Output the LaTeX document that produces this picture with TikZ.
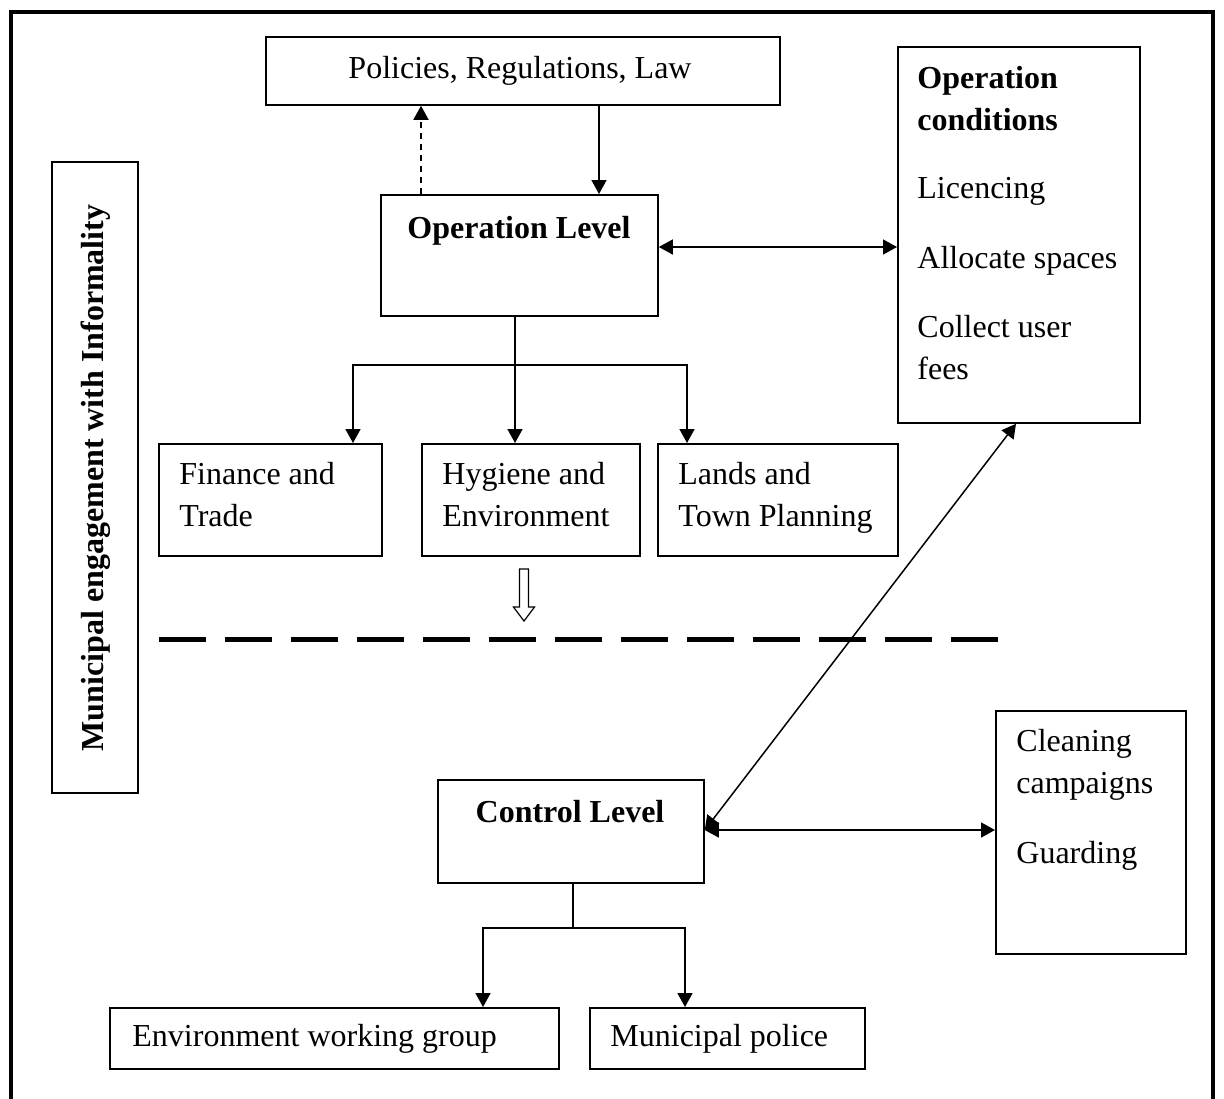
\documentclass[tikz,border=0pt]{standalone}
\usepackage{fontspec}
\setmainfont{Liberation Serif}
\usetikzlibrary{arrows.meta}
\newcommand{\fs}{\fontsize{16}{21}\selectfont}
\begin{document}
\begin{tikzpicture}[x=0.5pt,y=-0.5pt,
  box/.style={draw, line width=0.9pt, inner sep=0pt, anchor=north west},
  txt/.style={inner sep=0pt, anchor=base west, align=left, font=\fs},
  ctxt/.style={inner sep=0pt, anchor=base, align=center, font=\fs\bfseries},
  conn/.style={line width=0.75pt},
  arr/.style={conn, -{Triangle[length=7pt,width=7.5pt]}},
  darr/.style={conn, {Triangle[length=7pt,width=7.5pt]}-{Triangle[length=7pt,width=7.5pt]}},
  dasharr/.style={arr, line width=0.9pt, dash pattern=on 3pt off 2.5pt}]
\useasboundingbox (0,0) rectangle (1224,1098);
% outer frame (open at the bottom)
\draw[line width=2pt] (11,1100) -- (11,12) -- (1213,12) -- (1213,1100);
% boxes
\node[box, minimum width=257pt, minimum height=34pt] (pol) at (265,36) {};
\node[box, minimum width=121pt, minimum height=188pt] (opc) at (897,46) {};
\node[box, minimum width=43pt, minimum height=315.5pt] (mun) at (51,161) {};
\node[box, minimum width=138.5pt, minimum height=60.5pt] (opl) at (380,194) {};
\node[box, minimum width=111.5pt, minimum height=56pt] (fin) at (158,443) {};
\node[box, minimum width=109pt, minimum height=56pt] (hyg) at (421,443) {};
\node[box, minimum width=120pt, minimum height=56pt] (lan) at (657,443) {};
\node[box, minimum width=133pt, minimum height=51.5pt] (ctl) at (437,779) {};
\node[box, minimum width=95pt, minimum height=121.5pt] (cln) at (995,710) {};
\node[box, minimum width=224.5pt, minimum height=30.5pt] (env) at (109,1007) {};
\node[box, minimum width=137.5pt, minimum height=30.5pt] (mpl) at (589,1007) {};
% texts (multi-line nodes: base = baseline of last line)
\node[ctxt, font=\fs] (tpol) at (520,78) {Policies, Regulations, Law};
\node[txt, font=\fs\bfseries] (topc) at (917,130) {Operation\\conditions};
\node[txt] (tlic) at (917,198) {Licencing};
\node[txt] (tall) at (917,268) {Allocate spaces};
\node[txt] (tcol) at (917,379) {Collect user\\fees};
\node[inner sep=0pt, rotate=90, font=\fs\bfseries] (tmun) at (96,478) {Municipal engagement with Informality};
\node[ctxt] (topl) at (519,238) {Operation Level};
\node[txt] (tfin) at (179,526) {Finance and\\Trade};
\node[txt] (thyg) at (442,526) {Hygiene and\\Environment};
\node[txt] (tlan) at (678,526) {Lands and\\Town Planning};
\node[ctxt] (tctl) at (570,822) {Control Level};
\node[txt] (tcln) at (1016,793) {Cleaning\\campaigns};
\node[txt] (tgua) at (1016,863) {Guarding};
\node[txt] (tenv) at (132,1046) {Environment working group};
\node[txt] (tmpl) at (610,1046) {Municipal police};
% helper coordinates
\coordinate (xd) at (421,0);
\coordinate (xs) at (599,0);
\coordinate (y1) at (0,247);
\coordinate (j1) at (515,365);
\coordinate (xa) at (353,0);
\coordinate (xb) at (687,0);
\coordinate (xo) at (1016,0);
\coordinate (yc) at (0,830);
\coordinate (j2) at (573,928);
\coordinate (xe) at (483,0);
\coordinate (xp) at (685,0);
% connectors
\draw[dasharr] (opl.north -| xd) -- (pol.south -| xd);
\draw[arr] (pol.south -| xs) -- (opl.north -| xs);
\draw[darr] (opl.east |- y1) -- (opc.west |- y1);
\draw[conn] (opl.south -| j1) -- (j1);
\draw[arr] (j1) -| (fin.north -| xa);
\draw[arr] (j1) -- (hyg.north -| j1);
\draw[arr] (j1) -| (lan.north -| xb);
\draw[darr] (ctl.east |- yc) -- (opc.south -| xo);
\draw[darr] (ctl.east |- yc) -- (cln.west |- yc);
\draw[conn] (ctl.south -| j2) -- (j2);
\draw[arr] (j2) -| (env.north -| xe);
\draw[arr] (j2) -| (mpl.north -| xp);
% hollow block arrow and separator
\draw[line width=0.6pt] (519.5,569) -- (528.5,569) -- (528.5,607) -- (534.5,607) -- (524,621) -- (513.5,607) -- (519.5,607) -- cycle;
\draw[line width=2.5pt, dash pattern=on 23.5pt off 9.5pt] (159,639) -- (998,639);
\end{tikzpicture}
\end{document}
